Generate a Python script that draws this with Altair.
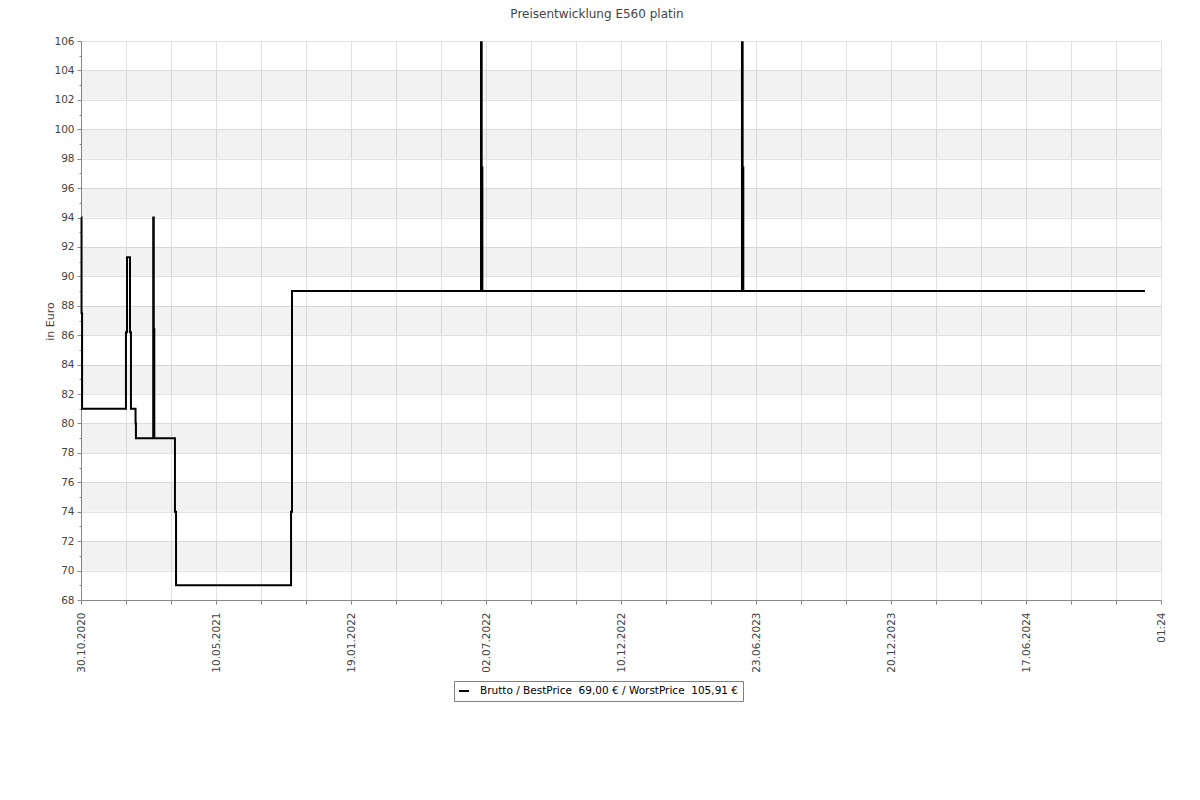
import altair as alt
import pandas as pd

# ---- data ----
title_text = "Preisentwicklung E560 platin"
x_labels = ["30.10.2020", "10.05.2021", "19.01.2022", "02.07.2022", "10.12.2022",
            "23.06.2023", "20.12.2023", "17.06.2024", "01:24"]
# positions measured in label-interval units (0 = first label, 8 = last label)
x_pos = [0.000, 0.004, 0.008, 0.333, 0.341, 0.363, 0.370, 0.404, 0.407,
         0.535, 0.539, 0.543, 0.696, 0.704, 1.556, 1.563,
         2.963, 2.968, 2.973, 4.896, 4.901, 4.906, 7.881]
prices = [94.0, 87.5, 81.0, 86.2, 91.3, 86.2, 81.0, 80.0, 79.0,
          94.0, 86.4, 79.0, 74.0, 69.0, 74.0, 89.0,
          105.91, 97.4, 89.0, 105.91, 97.4, 89.0, 89.0]
band_lows = [70, 74, 78, 82, 86, 90, 94, 98, 102]
series_name = "Brutto / BestPrice\u00a0 69,00 \u20ac / WorstPrice\u00a0 105,91 \u20ac"

line_df = pd.DataFrame({"x": x_pos, "price": prices, "series": series_name})
band_df = pd.DataFrame({"lo": band_lows, "hi": [b + 2 for b in band_lows]})

FONT = "DejaVu Sans"
label_js = "[" + ",".join("'%s'" % l for l in x_labels) + "]"

x_scale = alt.Scale(domain=[0, 8], nice=False, zero=False)
y_scale = alt.Scale(domain=[68, 106], nice=False, zero=False)

x_ticks = [i / 3 for i in range(25)]
y_ticks = list(range(68, 107))

x_axis = alt.Axis(
    values=x_ticks,
    labelExpr="abs(datum.value - round(datum.value)) < 0.01 ? " + label_js + "[round(datum.value)] : ''",
    labelAngle=270, labelAlign="right", labelBaseline="middle", labelPadding=8,
    labelFont=FONT, labelFontSize=10.5, labelColor="#444444", labelOverlap=False,
    labelFlush=False,
    tickSize=4, tickColor="#888888", domainColor="#888888",
    gridColor="#e2e2e2", grid=True, title=None,
)
y_axis = alt.Axis(
    values=y_ticks,
    labelExpr="datum.value % 2 === 0 ? datum.label : ''",
    labelFont=FONT, labelFontSize=10.5, labelColor="#444444", labelOverlap=False,
    labelPadding=3, labelFlush=False,
    tickSize={"condition": {"test": "datum.value % 2 === 0", "value": 4}, "value": 2},
    tickColor="#888888", domainColor="#888888",
    gridColor="#e2e2e2",
    gridOpacity={"condition": {"test": "datum.value % 2 === 0", "value": 1}, "value": 0},
    title="in Euro", titleFont=FONT, titleFontSize=11, titleFontWeight="normal",
    titleColor="#444444", titleAngle=270, titleAlign="center", titleBaseline="middle",
    titleX=-31, titleY=280,
)

bands = alt.Chart(band_df).mark_rect(color="black", opacity=0.05).encode(
    x=alt.X(datum=0, type="quantitative", scale=x_scale, axis=x_axis),
    x2=alt.X2(datum=8),
    y=alt.Y("lo:Q", scale=y_scale, axis=y_axis),
    y2="hi:Q",
)

line = alt.Chart(line_df).mark_line(interpolate="step-after", strokeWidth=2).encode(
    x=alt.X("x:Q", scale=x_scale, axis=x_axis),
    y=alt.Y("price:Q", scale=y_scale, axis=y_axis),
    color=alt.Color(
        "series:N",
        scale=alt.Scale(range=["black"]),
        legend=alt.Legend(
            orient="none", legendX=373, legendY=640, title=None,
            strokeColor="#808080", fillColor="white", padding=4,
            symbolType="stroke", symbolStrokeWidth=2, symbolSize=100,
            labelFont=FONT, labelFontSize=10.5, labelColor="black", labelOffset=10,
            labelLimit=600,
        ),
    ),
)

chart = alt.layer(bands, line).properties(
    width=1080, height=559,
    title=alt.TitleParams(
        text=title_text, anchor="middle", frame="group", offset=15, dx=-24,
        font=FONT, fontSize=12, fontWeight="normal", color="#444444",
    ),
    autosize=alt.AutoSizeParams(type="none"),
    padding={"left": 73, "top": 33, "right": 31, "bottom": 192},
).configure_view(stroke=None).configure(background="white")

chart.save("out.html", embed_options={"renderer": "svg", "actions": False})
